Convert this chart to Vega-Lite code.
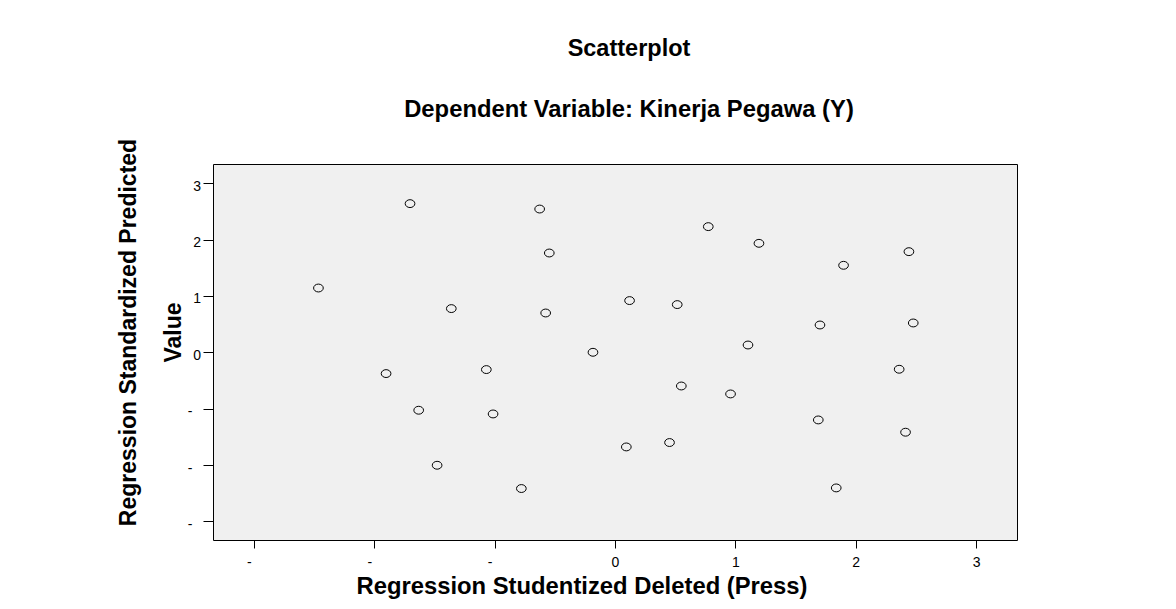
{
  "$schema": "https://vega.github.io/schema/vega-lite/v6.json",
  "width": 804,
  "height": 376,
  "autosize": {"type": "none"},
  "padding": {"left": 213, "top": 164, "right": 159, "bottom": 69},
  "background": "white",
  "title": {
    "text": "Scatterplot",
    "subtitle": "Dependent Variable: Kinerja Pegawa (Y)",
    "anchor": "middle",
    "frame": "group",
    "dx": 14,
    "offset": 17,
    "subtitlePadding": 37,
    "font": "Liberation Sans",
    "fontSize": 23.5,
    "fontWeight": "bold",
    "color": "black",
    "subtitleFont": "Liberation Sans",
    "subtitleFontSize": 23.8,
    "subtitleFontWeight": "bold",
    "subtitleColor": "black"
  },
  "data": {
    "values": [
      {"resid": -1.703, "pred": 2.637},
      {"resid": -0.626, "pred": 2.541},
      {"resid": -0.546, "pred": 1.761},
      {"resid": -2.464, "pred": 1.140},
      {"resid": -1.360, "pred": 0.775},
      {"resid": -0.576, "pred": 0.697},
      {"resid": -0.183, "pred": 0.000},
      {"resid": 0.775, "pred": 2.229},
      {"resid": 1.196, "pred": 1.933},
      {"resid": 1.899, "pred": 1.543},
      {"resid": 2.442, "pred": 1.785},
      {"resid": 0.121, "pred": 0.917},
      {"resid": 0.517, "pred": 0.846},
      {"resid": 1.703, "pred": 0.484},
      {"resid": 2.478, "pred": 0.520},
      {"resid": 1.105, "pred": 0.129},
      {"resid": -1.902, "pred": -0.378},
      {"resid": -1.069, "pred": -0.307},
      {"resid": -1.631, "pred": -1.028},
      {"resid": -1.013, "pred": -1.094},
      {"resid": -1.478, "pred": -2.004},
      {"resid": -0.778, "pred": -2.417},
      {"resid": 0.551, "pred": -0.598},
      {"resid": 0.960, "pred": -0.739},
      {"resid": 2.361, "pred": -0.301},
      {"resid": 1.689, "pred": -1.200},
      {"resid": 2.414, "pred": -1.418},
      {"resid": 0.094, "pred": -1.679},
      {"resid": 0.453, "pred": -1.601},
      {"resid": 1.838, "pred": -2.406}
    ]
  },
  "mark": {
    "type": "point",
    "shape": "M-1.23,0A1.23,1,0,1,0,1.23,0A1.23,1,0,1,0,-1.23,0Z",
    "size": 62,
    "filled": false,
    "stroke": "black",
    "strokeWidth": 1,
    "opacity": 1
  },
  "encoding": {
    "x": {
      "field": "resid",
      "type": "quantitative",
      "scale": {"domain": [-3.34, 3.34], "nice": false, "zero": false},
      "axis": {
        "title": "Regression Studentized Deleted (Press)",
        "values": [-3, -2, -1, 0, 1, 2, 3],
        "labelExpr": "datum.value < 0 ? '-' : datum.label",
        "labelOffset": {"condition": {"test": "datum.value < 0", "value": -5}, "value": 0},
        "grid": false,
        "domain": false,
        "ticks": true,
        "tickSize": 8,
        "tickColor": "black",
        "labelPadding": 7,
        "labelFont": "Liberation Sans",
        "labelFontSize": 14,
        "labelColor": "black",
        "titleFont": "Liberation Sans",
        "titleFontSize": 23.8,
        "titleFontWeight": "bold",
        "titleColor": "black",
        "titleAlign": "center",
        "titleBaseline": "alphabetic",
        "titleX": 368.5,
        "titleY": 53.5
      }
    },
    "y": {
      "field": "pred",
      "type": "quantitative",
      "scale": {"domain": [-3.33, 3.34], "nice": false, "zero": false},
      "axis": {
        "title": ["Regression Standardized Predicted", "Value"],
        "values": [-3, -2, -1, 0, 1, 2, 3],
        "labelExpr": "datum.value < 0 ? '-' : datum.label",
        "labelPadding": {"condition": {"test": "datum.value < 0", "value": 11}, "value": 2.5},
        "labelOffset": 3,
        "grid": false,
        "domain": false,
        "ticks": true,
        "tickSize": 10,
        "tickColor": "black",
        "labelFont": "Liberation Sans",
        "labelFontSize": 14,
        "labelColor": "black",
        "titleFont": "Liberation Sans",
        "titleFontSize": 23,
        "titleFontWeight": "bold",
        "titleColor": "black",
        "titleAngle": 270,
        "titleAlign": "center",
        "titleBaseline": "alphabetic",
        "titleLineHeight": 45,
        "titleX": -77.7,
        "titleY": 168
      }
    }
  },
  "config": {
    "view": {"fill": "#f0f0f0", "stroke": "black", "strokeWidth": 1}
  }
}
